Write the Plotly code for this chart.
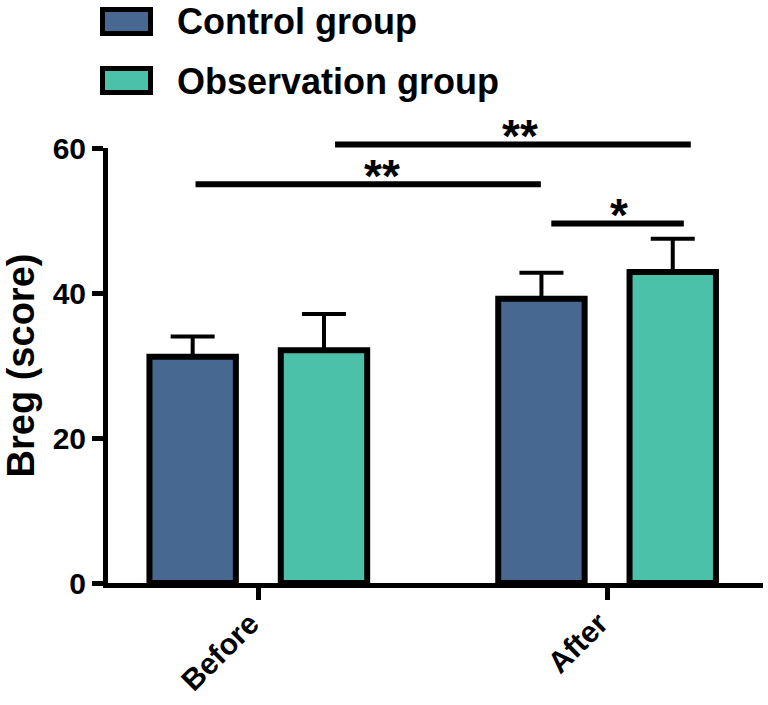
import plotly.graph_objects as go

# ---------------- data ----------------
categories = ["Before", "After"]
series_names = ["Control group", "Observation group"]
control_means = [31.2, 39.2]
control_err = [2.8, 3.6]
observation_means = [32.1, 42.9]
observation_err = [5.0, 4.6]
y_ticks = [0, 20, 40, 60]
y_title = "Breg (score)"
# significance brackets: x from, x to (category units), y (score), label, label x
bracket_x0 = [0.22, -0.18, 0.84]
bracket_x1 = [1.24, 0.81, 1.22]
bracket_y = [60.5, 55.0, 49.6]
bracket_labels = ["**", "**", "*"]
bracket_label_x = [0.75, 0.354, 1.034]

# ---------------- styling ----------------
CTRL_COLOR = "#466891"
OBS_COLOR = "#4bc1aa"
FONT = "Liberation Sans, Arial, Helvetica, sans-serif"
W, H = 768, 705
ML, MR, MT, MB = 108, 5, 148, 122
Y_RANGE = [0, 60]
X_RANGE = [-0.431, 1.447]
PW, PH = W - ML - MR, H - MT - MB


def px_x(px):
    return (px - ML) / PW


def px_y(py):
    return (H - MB - py) / PH


def data_y_to_paper(v):
    return (v - Y_RANGE[0]) / (Y_RANGE[1] - Y_RANGE[0])


fig = go.Figure()
for name, means, errs, color in [
    (series_names[0], control_means, control_err, CTRL_COLOR),
    (series_names[1], observation_means, observation_err, OBS_COLOR),
]:
    fig.add_trace(go.Bar(
        x=categories, y=means, name=name,
        marker=dict(color=color, line=dict(color="black", width=6)),
        error_y=dict(type="data", array=errs, arrayminus=[0] * len(errs),
                     symmetric=False, color="black", thickness=4, width=22),
        showlegend=False,
    ))

# significance brackets
shapes = []
annotations = []
for x0, x1, yv, lab, lx in zip(bracket_x0, bracket_x1, bracket_y, bracket_labels, bracket_label_x):
    yp = data_y_to_paper(yv)
    shapes.append(dict(type="line", xref="x", yref="paper", x0=x0, x1=x1, y0=yp, y1=yp,
                       line=dict(color="black", width=6)))
    annotations.append(dict(xref="x", yref="paper", x=lx, y=yp, yshift=-20, text=lab,
                            showarrow=False, xanchor="center", yanchor="bottom",
                            font=dict(family=FONT, size=46, color="black", weight="bold")))

# legend drawn manually (large boxed swatches)
legend_rows = [(9.5, 33.5, 21.5), (68.5, 92.5, 81.0)]
for (y0, y1, yc), name, color in zip(legend_rows, series_names, [CTRL_COLOR, OBS_COLOR]):
    shapes.append(dict(type="rect", xref="paper", yref="paper",
                       x0=px_x(102.5), x1=px_x(150.5), y0=px_y(y1), y1=px_y(y0),
                       fillcolor=color, line=dict(color="black", width=5)))
    annotations.append(dict(xref="paper", yref="paper", x=px_x(175), y=px_y(yc), text=name,
                            showarrow=False, xanchor="left", yanchor="middle",
                            font=dict(family=FONT, size=36, color="black", weight="bold")))

fig.update_layout(
    template="none",
    width=W, height=H,
    margin=dict(l=ML, r=MR, t=MT, b=MB, pad=0, autoexpand=False),
    paper_bgcolor="white", plot_bgcolor="white",
    barmode="group", bargap=0.247, bargroupgap=0.342,
    font=dict(family=FONT, color="black"),
    shapes=shapes, annotations=annotations,
    xaxis=dict(
        type="category", range=X_RANGE, automargin=False,
        showline=True, linecolor="black", linewidth=5,
        ticks="outside", ticklen=12, tickwidth=5, tickcolor="black",
        tickangle=-45, tickfont=dict(family=FONT, size=30, color="black", weight="bold"),
        ticklabelshift=-8, ticklabelstandoff=-6,
        showgrid=False, zeroline=False,
    ),
    yaxis=dict(
        range=Y_RANGE, tickvals=y_ticks, automargin=False,
        showline=True, linecolor="black", linewidth=5,
        ticks="outside", ticklen=11, tickwidth=5, tickcolor="black",
        tickfont=dict(family=FONT, size=30, color="black", weight="bold"),
        title=dict(text=y_title, font=dict(family=FONT, size=38, color="black", weight="bold"),
                   standoff=8),
        showgrid=False, zeroline=False,
    ),
)

fig.write_html(
    "out.html",
    config={"displayModeBar": False},
    post_script="document.body.style.margin='0';document.body.style.overflow='hidden';",
)
